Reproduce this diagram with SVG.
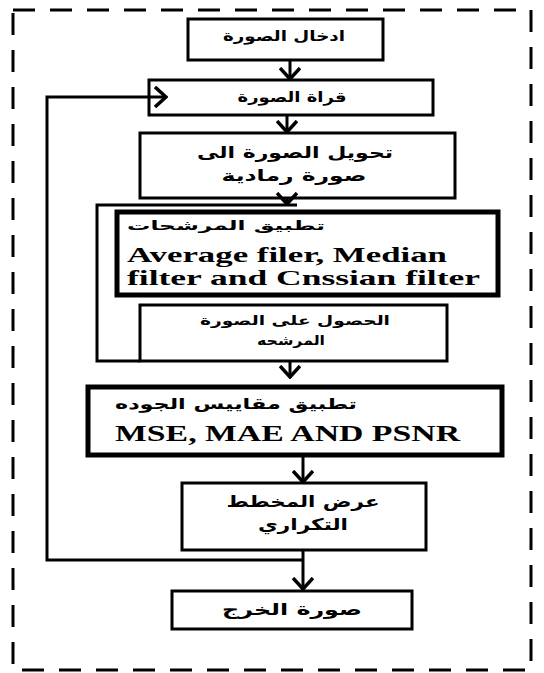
<svg xmlns="http://www.w3.org/2000/svg" width="544" height="673" viewBox="0 0 544 673">
<style>
.box{fill:#fff;stroke:#000;stroke-width:3}
.thick{fill:#fff;stroke:#000;stroke-width:5}
.ar{font-family:"DejaVu Sans",sans-serif;font-weight:bold;fill:#000}
.en{font-family:"Liberation Serif",serif;font-weight:bold;fill:#000}
.ln{fill:none;stroke:#000;stroke-width:3}
</style>
<defs>
<marker id="ah" viewBox="0 0 14 22" refX="12" refY="11" markerWidth="14" markerHeight="22" orient="auto" markerUnits="userSpaceOnUse">
<path d="M1,1 L12,11 L1,21" fill="none" stroke="#000" stroke-width="3.5"/>
</marker>
</defs>
<rect x="13" y="10" width="518" height="660" fill="none" stroke="#000" stroke-width="3" stroke-dasharray="22 15"/>
<g id="n1"><rect class="box" x="188" y="19" width="195" height="41"/>
<text class="ar" x="284" y="41" font-size="14" text-anchor="middle" textLength="122" lengthAdjust="spacingAndGlyphs">ادخال الصورة</text></g>
<g id="n2"><rect class="box" x="149" y="80" width="284" height="35"/>
<text class="ar" x="292" y="102" font-size="14" text-anchor="middle" textLength="109" lengthAdjust="spacingAndGlyphs">قراة الصورة</text></g>
<g id="n3"><rect class="box" x="140" y="133" width="315" height="65"/>
<text class="ar" x="295" y="158" font-size="16" text-anchor="middle" textLength="196" lengthAdjust="spacingAndGlyphs">تحويل  الصورة الى</text>
<text class="ar" x="294" y="181" font-size="16" text-anchor="middle" textLength="145" lengthAdjust="spacingAndGlyphs">صورة رمادية</text></g>
<g id="n4"><rect class="thick" x="117" y="212" width="381" height="83"/>
<text class="ar" x="226" y="230" font-size="13" text-anchor="middle" textLength="198" lengthAdjust="spacingAndGlyphs">تطبيق المرشحات</text>
<text class="en" x="127" y="262" font-size="22" textLength="320" lengthAdjust="spacingAndGlyphs">Average filer, Median</text>
<text class="en" x="127" y="285" font-size="22" textLength="353" lengthAdjust="spacingAndGlyphs">filter and Cnssian filter</text></g>
<g id="n5"><rect class="box" x="140" y="305" width="307" height="56"/>
<text class="ar" x="295" y="325" font-size="13" text-anchor="middle" textLength="190" lengthAdjust="spacingAndGlyphs">الحصول على الصورة</text>
<text class="ar" x="291" y="345" font-size="13" text-anchor="middle" textLength="68" lengthAdjust="spacingAndGlyphs">المرشحه</text></g>
<g id="n6"><rect class="thick" x="88" y="387" width="414" height="68"/>
<text class="ar" x="236" y="409" font-size="15" text-anchor="middle" textLength="242" lengthAdjust="spacingAndGlyphs">تطبيق مقاييس الجوده</text>
<text class="en" x="115" y="441" font-size="24" textLength="345" lengthAdjust="spacingAndGlyphs">MSE, MAE AND PSNR</text></g>
<g id="n7"><rect class="box" x="182" y="483" width="244" height="67"/>
<text class="ar" x="303" y="507" font-size="16" text-anchor="middle" textLength="153" lengthAdjust="spacingAndGlyphs">عرض المخطط</text>
<text class="ar" x="303" y="530" font-size="16" text-anchor="middle" textLength="90" lengthAdjust="spacingAndGlyphs">التكراري</text></g>
<g id="n8"><rect class="box" x="172" y="591" width="240" height="38"/>
<text class="ar" x="292" y="615" font-size="16" text-anchor="middle" textLength="140" lengthAdjust="spacingAndGlyphs">صورة الخرج</text></g>
<g id="connectors">
<path class="ln" d="M290,60 V79" marker-end="url(#ah)"/>
<path class="ln" d="M287,115 V132" marker-end="url(#ah)"/>
<path class="ln" d="M287,198 V204" marker-end="url(#ah)"/>
<path class="ln" d="M290,361 V377" marker-end="url(#ah)"/>
<path class="ln" d="M303,455 V482" marker-end="url(#ah)"/>
<path class="ln" d="M303,550 V589" marker-end="url(#ah)"/>
<path class="ln" d="M303,560 H47 V97 H149"/>
<path class="ln" d="M149,97 H166" marker-end="url(#ah)"/>
<path class="ln" d="M297,205 H97 V361 H140"/>
</g>
</svg>
